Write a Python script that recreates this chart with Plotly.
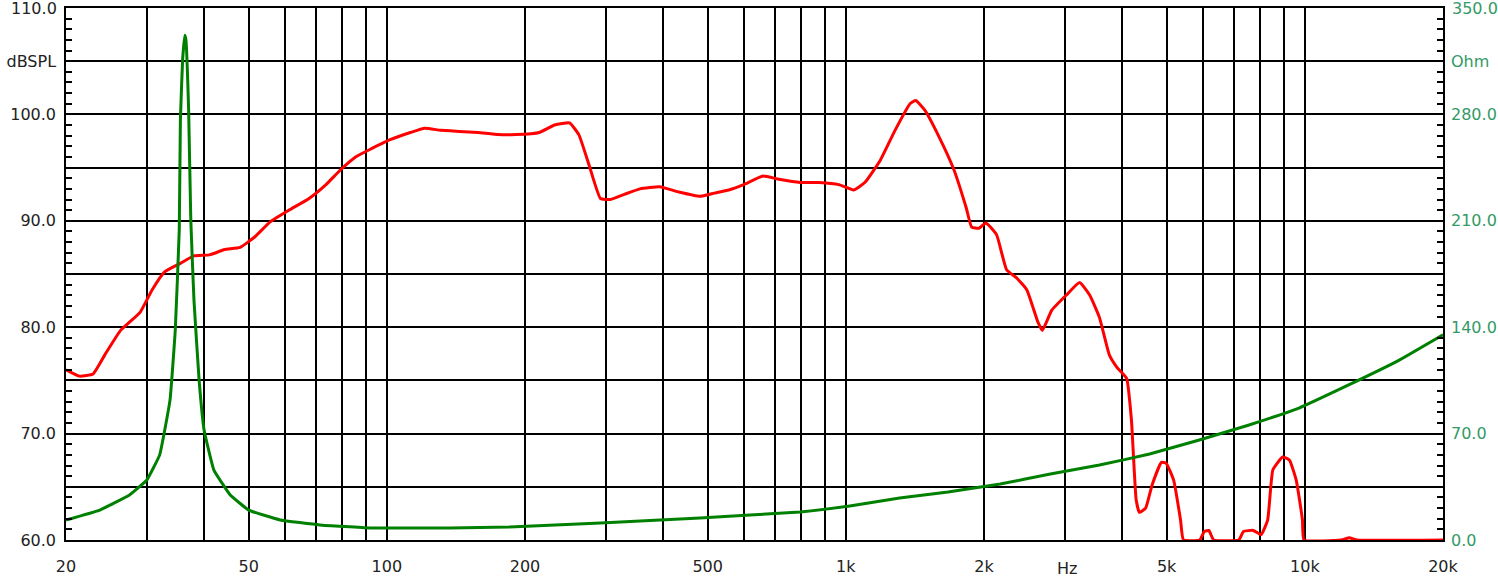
import numpy as np
import plotly.graph_objects as go

# SPL response (Hz, dB SPL)
spl_freq = [20, 21.4, 22.9, 24.3, 26.3, 29.0, 30.8, 32.8, 35.5, 38.0, 41.1, 44.3, 47.9, 51.6, 55.7,
            61.2, 67.7, 73.7, 79.3, 85.5, 92.8, 101.3, 112.5, 121, 131, 144, 158, 175, 191, 215,
            232, 250, 262, 276, 292, 307, 330, 356, 393, 433, 481, 517, 556, 599, 660, 715, 795,
            875, 966, 1040, 1100, 1189, 1280, 1380, 1420, 1486, 1600, 1720, 1830, 1880, 1950, 2020,
            2130, 2240, 2360, 2480, 2620, 2680, 2810, 3020, 3230, 3400, 3570, 3750, 3900, 4090,
            4190, 4290, 4360, 4500, 4650, 4870, 4990, 5180, 5360, 5440, 5900, 6040, 6180, 6330,
            7180, 7350, 7720, 8030, 8300, 8520, 8950, 9260, 9580, 9880, 9960, 12000, 12500, 13000,
            20000]
spl_db = [76.0, 75.4, 75.6, 77.4, 79.7, 81.4, 83.5, 85.2, 86.0, 86.7, 86.8, 87.3, 87.5, 88.5, 89.9,
          91.0, 92.1, 93.4, 94.8, 96.0, 96.8, 97.6, 98.3, 98.7, 98.5, 98.4, 98.3, 98.1, 98.1, 98.3,
          99.0, 99.2, 98.1, 95.2, 92.1, 92.0, 92.5, 93.0, 93.2, 92.7, 92.3, 92.6, 92.9, 93.4, 94.2,
          93.9, 93.6, 93.6, 93.4, 92.9, 93.6, 95.7, 98.5, 101.0, 101.3, 100.4, 97.8, 94.8, 91.2,
          89.4, 89.3, 89.8, 88.7, 85.4, 84.6, 83.5, 80.5, 79.7, 81.6, 83.0, 84.2, 83.0, 80.9,
          77.4, 76.2, 75.2, 71.3, 63.8, 62.6, 63.0, 65.2, 67.3, 67.2, 65.6, 61.9, 60.0, 60.0,
          60.8, 60.9, 60.0, 60.0, 60.8, 60.9, 60.5, 61.9, 66.6, 67.8, 67.5, 65.6, 61.9, 60.0,
          60.0, 60.2, 60.0, 60.0]

# Impedance (Hz, Ohm)
imp_freq = [20, 23.7, 27.5, 30, 32, 33.7, 34.6, 35.3, 35.5, 35.9, 36.3, 36.5, 37, 37.4, 38, 39, 40,
            42, 45.6, 50, 58.6, 71.4, 92, 137, 185, 292, 481, 795, 1020, 1310, 1670, 2170, 2790,
            3570, 4590, 5890, 7560, 9710, 12460, 15990, 20000]
imp_ohm = [13.2, 19.7, 29.6, 39.5, 56, 92, 138, 204, 276, 316, 332, 329, 283, 211, 158, 105, 72,
           46, 29.6, 19.7, 13.2, 9.9, 7.9, 7.9, 8.6, 11.2, 14.5, 18.4, 22.4, 27.6, 31.6, 36.8,
           43.4, 49.3, 56.6, 65.8, 75.7, 86.8, 102, 118, 135]

x_grid = [20, 30, 40, 50, 60, 70, 80, 90, 100, 200, 300, 400, 500, 600, 700, 800, 900,
          1000, 2000, 3000, 4000, 5000, 6000, 7000, 8000, 9000, 10000, 20000]
x_labels = {20: "20", 50: "50", 100: "100", 200: "200", 500: "500", 1000: "1k",
            2000: "2k", 5000: "5k", 10000: "10k", 20000: "20k"}
# left axis: grid every 5 dB, labels every 10 dB, unit text at 105
y_alias = {"65.0": " ", "75.0": " ", "85.0": " ", "95.0": " ", "105.0": "dBSPL", "110.0": " "}
y2_alias = {"35.0": " ", "105.0": " ", "175.0": " ", "245.0": " ", "315.0": "Ohm", "350.0": " "}
y_top_label = "110.0"
y2_top_label = "350.0"

FONT = "DejaVu Sans"
TXT = "#222222"
GREEN_TXT = "#339966"

fig = go.Figure()
fig.add_trace(go.Scatter(x=spl_freq, y=spl_db, mode="lines",
                         line=dict(color="#FF0000", width=3, shape="spline", smoothing=0.4),
                         showlegend=False))
fig.add_trace(go.Scatter(x=imp_freq, y=imp_ohm, mode="lines", yaxis="y2",
                         line=dict(color="#008000", width=3, shape="spline", smoothing=0.3),
                         showlegend=False))

fig.update_layout(
    width=1498, height=585,
    margin=dict(l=66, r=55, t=8, b=45, autoexpand=False),
    paper_bgcolor="white", plot_bgcolor="white",
    font=dict(family=FONT, size=16, color=TXT),
    xaxis=dict(type="log", range=[np.log10(20), np.log10(20000)], automargin=False,
               tickvals=x_grid, ticktext=[x_labels.get(v, "") for v in x_grid],
               showgrid=True, gridcolor="#000000", gridwidth=1.5,
               showline=True, linecolor="#000000", linewidth=1.5, mirror=True,
               ticks="", zeroline=False, ticklabelstandoff=11,
               tickfont=dict(family=FONT, size=16, color=TXT)),
    yaxis=dict(range=[60, 110], tickmode="linear", tick0=60, dtick=5, tickformat=".1f",
               labelalias=y_alias, automargin=False,
               showgrid=True, gridcolor="#000000", gridwidth=1.5,
               showline=True, linecolor="#000000", linewidth=1.5, mirror=True,
               ticks="inside", ticklen=6, tickcolor="#000000", tickwidth=1.5,
               zeroline=False, ticklabelstandoff=5,
               tickfont=dict(family=FONT, size=16, color=TXT),
               minor=dict(tickmode="linear", dtick=1, ticks="inside", ticklen=6,
                          tickcolor="#000000", tickwidth=1.5, showgrid=False)),
    yaxis2=dict(range=[0, 350], overlaying="y", side="right", automargin=False,
                tickmode="linear", tick0=0, dtick=35, tickformat=".1f", labelalias=y2_alias,
                showgrid=False, zeroline=False,
                ticks="inside", ticklen=6, tickcolor="#000000", tickwidth=1.5,
                ticklabelstandoff=7, tickfont=dict(family=FONT, size=16, color=GREEN_TXT),
                minor=dict(tickmode="linear", dtick=7, ticks="inside", ticklen=6,
                           tickcolor="#000000", tickwidth=1.5, showgrid=False)),
    annotations=[
        dict(x=np.log10(3033), y=0, xref="x", yref="paper", yanchor="top", yshift=-17,
             text="Hz", showarrow=False, font=dict(family=FONT, size=16, color=TXT)),
        dict(x=0, y=110, xref="paper", yref="y", xanchor="right", yanchor="middle", xshift=-7,
             text=y_top_label, showarrow=False, font=dict(family=FONT, size=16, color=TXT)),
        dict(x=1, y=350, xref="paper", yref="y2", xanchor="left", yanchor="middle", xshift=7,
             text=y2_top_label, showarrow=False, font=dict(family=FONT, size=16, color=GREEN_TXT)),
    ],
)

fig.write_html("out.html", config={"displayModeBar": False},
               post_script="document.body.style.margin='0';document.body.style.overflow='hidden';")
